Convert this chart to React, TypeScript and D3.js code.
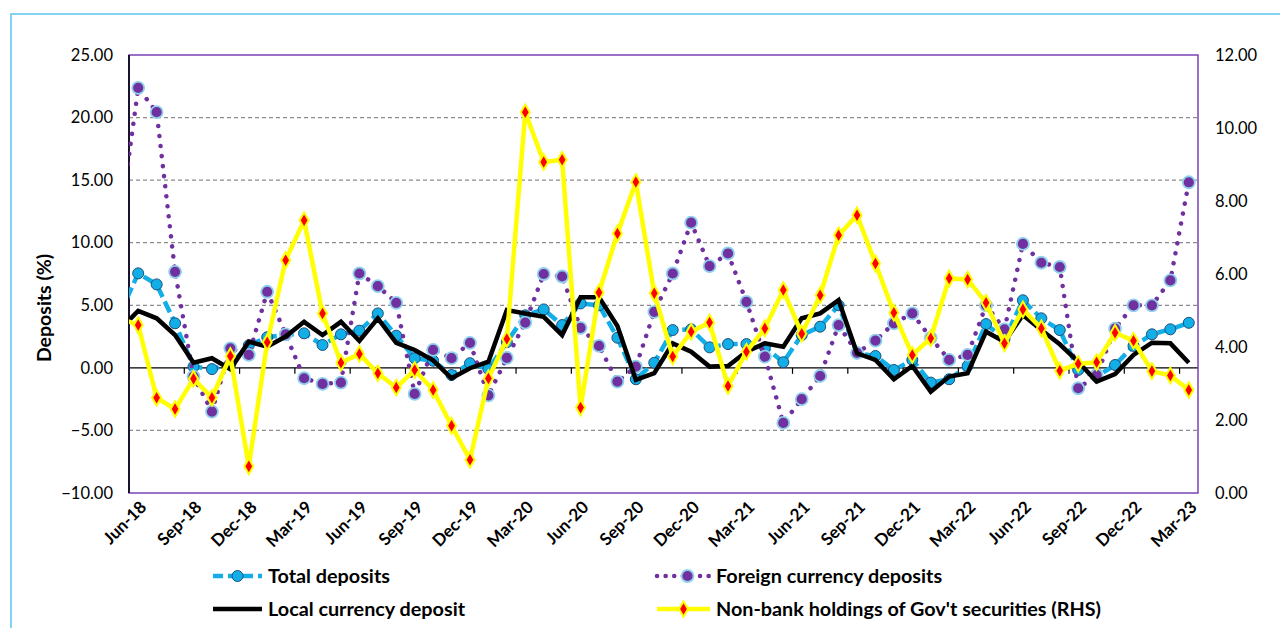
import React, { useEffect, useRef } from "react";
import * as d3 from "d3";

// months (first one sits just left of the plot and is clipped, as in the source)
const months = [
  "May-18", "Jun-18", "Jul-18", "Aug-18", "Sep-18", "Oct-18", "Nov-18", "Dec-18",
  "Jan-19", "Feb-19", "Mar-19", "Apr-19", "May-19", "Jun-19", "Jul-19", "Aug-19",
  "Sep-19", "Oct-19", "Nov-19", "Dec-19", "Jan-20", "Feb-20", "Mar-20", "Apr-20",
  "May-20", "Jun-20", "Jul-20", "Aug-20", "Sep-20", "Oct-20", "Nov-20", "Dec-20",
  "Jan-21", "Feb-21", "Mar-21", "Apr-21", "May-21", "Jun-21", "Jul-21", "Aug-21",
  "Sep-21", "Oct-21", "Nov-21", "Dec-21", "Jan-22", "Feb-22", "Mar-22", "Apr-22",
  "May-22", "Jun-22", "Jul-22", "Aug-22", "Sep-22", "Oct-22", "Nov-22", "Dec-22",
  "Jan-23", "Feb-23", "Mar-23",
];

const tickLabels = [
  "Jun-18", "Sep-18", "Dec-18", "Mar-19", "Jun-19", "Sep-19", "Dec-19", "Mar-20",
  "Jun-20", "Sep-20", "Dec-20", "Mar-21", "Jun-21", "Sep-21", "Dec-21", "Mar-22",
  "Jun-22", "Sep-22", "Dec-22", "Mar-23",
];

const totalDeposits = [
  4.3, 7.55, 6.67, 3.56, 0.1, -0.1, 0.3, 1.8, 2.45, 2.62, 2.76, 1.83, 2.68, 2.97,
  4.35, 2.57, 0.77, 0.57, -0.57, 0.37, -0.1, 2.05, 4.2, 4.67, 3.42, 5.15, 5.0, 2.41,
  -0.91, 0.41, 3.02, 3.08, 1.64, 1.9, 1.9, 1.64, 0.45, 2.62, 3.29, 5.0, 1.16, 0.95,
  -0.17, 0.63, -1.18, -0.91, 0.15, 3.5, 2.3, 5.4, 3.96, 3.02, -0.17, -0.7, 0.23,
  1.75, 2.68, 3.08, 3.6,
];

const foreignDeposits = [
  11.5, 22.38, 20.43, 7.67, -0.7, -3.49, 1.56, 1.03, 6.08, 2.68, -0.83, -1.28, -1.18,
  7.54, 6.53, 5.2, -2.08, 1.43, 0.77, 2.0, -2.2, 0.8, 3.62, 7.5, 7.3, 3.2, 1.75, -1.1,
  0.1, 4.48, 7.54, 11.6, 8.13, 9.14, 5.28, 0.89, -4.4, -2.5, -0.65, 3.42, 1.2, 2.17,
  3.56, 4.35, 2.4, 0.63, 1.03, 5.0, 3.08, 9.9, 8.4, 8.06, -1.63, -0.57, 3.13, 5.0,
  5.0, 6.99, 14.83,
];

const localDeposits = [
  3.03, 4.56, 3.96, 2.62, 0.41, 0.77, -0.1, 2.09, 1.69, 2.5, 3.68, 2.62, 3.68, 2.15,
  3.96, 2.0, 1.43, 0.6, -0.83, -0.03, 0.49, 4.62, 4.35, 4.08, 2.62, 5.65, 5.65, 3.34,
  -0.96, -0.43, 1.96, 1.29, 0.1, 0.15, 1.29, 1.96, 1.69, 3.96, 4.35, 5.41, 1.16, 0.63,
  -0.91, 0.15, -1.9, -0.7, -0.43, 2.89, 2.09, 4.22, 3.02, 1.88, 0.49, -1.1, -0.49,
  1.03, 2.01, 1.96, 0.41,
];

const govtSecurities = [
  4.79, 4.6, 2.61, 2.3, 3.13, 2.61, 3.75, 0.73, 4.13, 6.38, 7.47, 4.92, 3.57, 3.81,
  3.28, 2.89, 3.37, 2.82, 1.84, 0.91, 3.14, 4.22, 10.43, 9.07, 9.13, 2.34, 5.49, 7.11,
  8.52, 5.47, 3.74, 4.42, 4.67, 2.93, 3.87, 4.51, 5.56, 4.36, 5.42, 7.06, 7.61, 6.29,
  4.94, 3.78, 4.24, 5.88, 5.85, 5.21, 4.1, 5.03, 4.51, 3.35, 3.54, 3.58, 4.39, 4.17,
  3.34, 3.22, 2.82,
];

const leftTicks = [-10, -5, 0, 5, 10, 15, 20, 25];
const rightTicks = [0, 2, 4, 6, 8, 10, 12];

const FONT = "Lato, 'Open Sans', sans-serif";

const App = () => {
  const svgRef = useRef(null);

  useEffect(() => {
    const width = 1280;
    const height = 628;
    const plot = { left: 129, right: 1198, top: 55, bottom: 493 };

    const svg = d3.select(svgRef.current);
    svg.selectAll("*").remove();
    svg.attr("width", width).attr("height", height);

    // outer frame
    svg
      .append("rect")
      .attr("x", 11)
      .attr("y", 14)
      .attr("width", 1280)
      .attr("height", 700)
      .attr("fill", "#fff")
      .attr("stroke", "#5ec5ee")
      .attr("stroke-width", 1.5);

    // scales
    const x = d3
      .scaleLinear()
      .domain([0.5, months.length - 0.5])
      .range([plot.left, plot.right]);
    const y = d3.scaleLinear().domain([-10, 25]).range([plot.bottom, plot.top]);
    const y2 = d3.scaleLinear().domain([0, 12]).range([plot.bottom, plot.top]);

    svg
      .append("defs")
      .append("clipPath")
      .attr("id", "plot-clip")
      .append("rect")
      .attr("x", plot.left)
      .attr("y", plot.top - 10)
      .attr("width", plot.right - plot.left)
      .attr("height", plot.bottom - plot.top + 20);

    // gridlines
    svg
      .append("g")
      .selectAll("line")
      .data(leftTicks.filter((d) => d !== 0 && d !== -10 && d !== 25))
      .join("line")
      .attr("x1", plot.left)
      .attr("x2", plot.right)
      .attr("y1", (d) => y(d))
      .attr("y2", (d) => y(d))
      .attr("stroke", "#8c8c8c")
      .attr("stroke-width", 1.2)
      .attr("stroke-dasharray", "4,3");

    // zero line + tick marks every quarter
    svg
      .append("line")
      .attr("x1", plot.left)
      .attr("x2", plot.right)
      .attr("y1", y(0))
      .attr("y2", y(0))
      .attr("stroke", "#000")
      .attr("stroke-width", 1.2);

    const tickIdx = d3.range(1, months.length, 3);
    svg
      .append("g")
      .selectAll("line")
      .data(tickIdx)
      .join("line")
      .attr("x1", (d) => x(d - 0.5))
      .attr("x2", (d) => x(d - 0.5))
      .attr("y1", y(0))
      .attr("y2", y(0) + 6)
      .attr("stroke", "#000")
      .attr("stroke-width", 1.2);

    // plot border
    svg
      .append("rect")
      .attr("x", plot.left)
      .attr("y", plot.top)
      .attr("width", plot.right - plot.left)
      .attr("height", plot.bottom - plot.top)
      .attr("fill", "none")
      .attr("stroke", "#7a42b8")
      .attr("stroke-width", 1.5);
    svg
      .append("line")
      .attr("x1", plot.left)
      .attr("x2", plot.left)
      .attr("y1", plot.top)
      .attr("y2", plot.bottom)
      .attr("stroke", "#1a1330")
      .attr("stroke-width", 2);

    // y axis labels
    svg
      .append("g")
      .selectAll("text")
      .data(leftTicks)
      .join("text")
      .attr("x", 113)
      .attr("y", (d) => y(d))
      .attr("dy", "0.35em")
      .attr("text-anchor", "end")
      .attr("font-family", FONT)
      .attr("font-size", 16.5)
      .attr("fill", "#000")
      .text((d) => d3.format(".2f")(d));

    svg
      .append("g")
      .selectAll("text")
      .data(rightTicks)
      .join("text")
      .attr("x", 1215)
      .attr("y", (d) => y2(d))
      .attr("dy", "0.35em")
      .attr("text-anchor", "start")
      .attr("font-family", FONT)
      .attr("font-size", 16.5)
      .attr("fill", "#000")
      .text((d) => d3.format(".2f")(d));

    svg
      .append("text")
      .attr("transform", `translate(44,${(plot.top + plot.bottom) / 2 + 34}) rotate(-90)`)
      .attr("text-anchor", "middle")
      .attr("dy", "0.35em")
      .attr("font-family", FONT)
      .attr("font-weight", "bold")
      .attr("font-size", 19.5)
      .text("Deposits (%)");

    // x tick labels
    svg
      .append("g")
      .selectAll("text")
      .data(tickLabels)
      .join("text")
      .attr("transform", (d) => `translate(${x(months.indexOf(d)) + 5},${plot.bottom + 11}) rotate(-45)`)
      .attr("text-anchor", "end")
      .attr("dy", "0.35em")
      .attr("font-family", FONT)
      .attr("font-weight", "bold")
      .attr("font-size", 17)
      .text((d) => d);

    // series
    const series = svg.append("g").attr("clip-path", "url(#plot-clip)");

    const lineL = d3
      .line<number>()
      .x((d, i) => x(i))
      .y((d) => y(d));
    const lineR = d3
      .line<number>()
      .x((d, i) => x(i))
      .y((d) => y2(d));

    const shown = (i: number) => i > 0;

    // total deposits
    series
      .append("path")
      .datum(totalDeposits)
      .attr("fill", "none")
      .attr("stroke", "#12aee8")
      .attr("stroke-width", 4.5)
      .attr("stroke-dasharray", "12,5")
      .attr("d", lineL);
    series
      .append("g")
      .selectAll("circle")
      .data(totalDeposits.map((v, i) => [i, v]).filter((d) => shown(d[0])))
      .join("circle")
      .attr("cx", (d) => x(d[0]))
      .attr("cy", (d) => y(d[1]))
      .attr("r", 5.5)
      .attr("fill", "#12aee8")
      .attr("stroke", "#1d4f7a")
      .attr("stroke-width", 1);

    // foreign currency deposits
    series
      .append("path")
      .datum(foreignDeposits)
      .attr("fill", "none")
      .attr("stroke", "#7030a0")
      .attr("stroke-width", 4.5)
      .attr("stroke-linecap", "round")
      .attr("stroke-dasharray", "0.1,10")
      .attr("d", lineL);
    series
      .append("g")
      .selectAll("circle")
      .data(foreignDeposits.map((v, i) => [i, v]).filter((d) => shown(d[0])))
      .join("circle")
      .attr("cx", (d) => x(d[0]))
      .attr("cy", (d) => y(d[1]))
      .attr("r", 6)
      .attr("fill", "#7030a0")
      .attr("stroke", "#8fd0ea")
      .attr("stroke-width", 1.8);

    // local currency deposit
    series
      .append("path")
      .datum(localDeposits)
      .attr("fill", "none")
      .attr("stroke", "#000")
      .attr("stroke-width", 4.5)
      .attr("stroke-linejoin", "miter")
      .attr("d", lineL);

    // non-bank holdings (RHS)
    series
      .append("path")
      .datum(govtSecurities)
      .attr("fill", "none")
      .attr("stroke", "#ffff00")
      .attr("stroke-width", 4.5)
      .attr("d", lineR);
    const diamond = d3.symbol().type(d3.symbolDiamond).size(70);
    series
      .append("g")
      .selectAll("path")
      .data(govtSecurities.map((v, i) => [i, v]).filter((d) => shown(d[0])))
      .join("path")
      .attr("transform", (d) => `translate(${x(d[0])},${y2(d[1])})`)
      .attr("d", diamond)
      .attr("fill", "#ff0000")
      .attr("stroke", "#ffff00")
      .attr("stroke-width", 2);

    // legend
    const legend = svg.append("g").attr("font-family", FONT).attr("font-weight", "bold").attr("font-size", 19.8);
    const rows = [
      { x: 213, y: 576, label: "Total deposits", kind: "total" },
      { x: 657, y: 576, label: "Foreign currency deposits", kind: "foreign" },
      { x: 213, y: 609, label: "Local currency deposit", kind: "local" },
      { x: 657, y: 609, label: "Non-bank holdings of Gov't securities (RHS)", kind: "govt" },
    ];
    rows.forEach((r) => {
      const g = legend.append("g").attr("transform", `translate(${r.x},${r.y})`);
      const len = r.kind === "foreign" || r.kind === "govt" ? 53 : 49;
      const ln = g.append("line").attr("x1", 0).attr("x2", len).attr("y1", 0).attr("y2", 0).attr("stroke-width", 4.5);
      if (r.kind === "total") {
        ln.attr("stroke", "#12aee8").attr("stroke-dasharray", "10,5");
        g.append("circle").attr("cx", len / 2).attr("cy", 0).attr("r", 5.5).attr("fill", "#12aee8").attr("stroke", "#1d4f7a");
      } else if (r.kind === "foreign") {
        ln.attr("stroke", "#7030a0").attr("stroke-linecap", "round").attr("stroke-dasharray", "0.1,8.5");
        g.append("circle").attr("cx", len / 2 + 4).attr("cy", 0).attr("r", 6).attr("fill", "#7030a0").attr("stroke", "#8fd0ea").attr("stroke-width", 1.8);
      } else if (r.kind === "local") {
        ln.attr("stroke", "#000");
      } else {
        ln.attr("stroke", "#ffff00");
        g.append("path").attr("transform", `translate(${len / 2},0)`).attr("d", diamond).attr("fill", "#ff0000").attr("stroke", "#ffff00").attr("stroke-width", 2);
      }
      g.append("text")
        .attr("x", len + 6)
        .attr("y", 0)
        .attr("dy", "0.35em")
        .text(r.label);
    });
  }, []);

  return <svg ref={svgRef} style={{ position: "fixed", left: 0, top: 0, display: "block" }}></svg>;
};

export default App;
